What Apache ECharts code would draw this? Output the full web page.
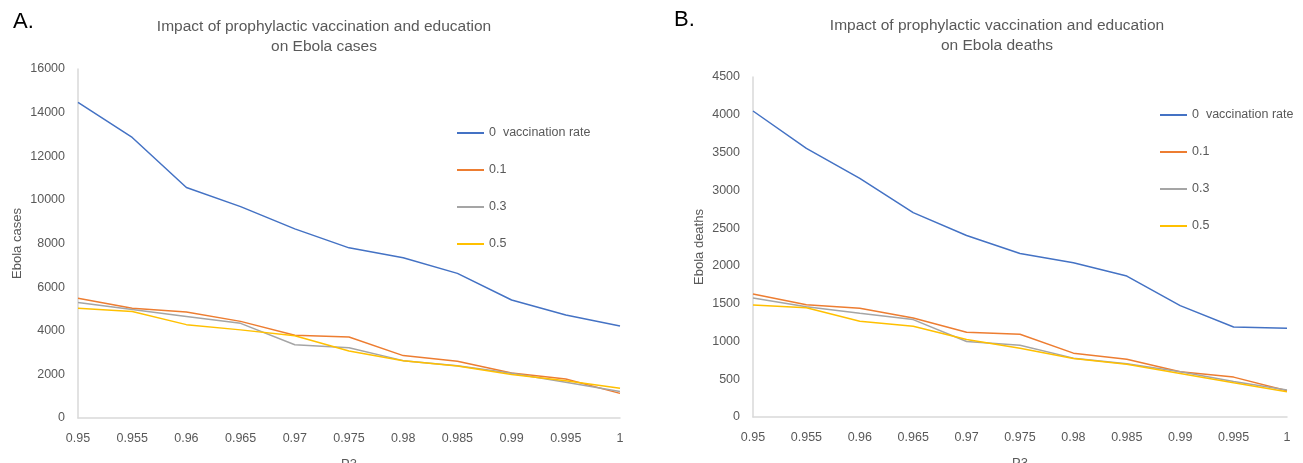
<!DOCTYPE html>
<html>
<head>
<meta charset="utf-8">
<script src="https://cdn.jsdelivr.net/npm/echarts@6/dist/echarts.min.js"></script>
<style>
html,body{margin:0;padding:0;background:#fff;}
#chart{width:1303px;height:463px;}
</style>
</head>
<body>
<div id="chart"></div>
<script>
// ---- data ----
const p3Categories = ['0.95','0.955','0.96','0.965','0.97','0.975','0.98','0.985','0.99','0.995','1'];
const seriesNames = ['0  vaccination rate', '0.1', '0.3', '0.5'];

// Panel A: Ebola cases
const casesVacc0  = [14470, 12860, 10570, 9690, 8670, 7800, 7350, 6630, 5410, 4720, 4220];
const casesVacc01 = [5490, 5030, 4860, 4430, 3790, 3710, 2860, 2600, 2060, 1790, 1130];
const casesVacc03 = [5300, 4970, 4650, 4340, 3360, 3220, 2630, 2400, 2050, 1640, 1220];
const casesVacc05 = [5030, 4880, 4280, 4040, 3770, 3070, 2620, 2380, 1990, 1710, 1360];

// Panel B: Ebola deaths
const deathsVacc0  = [4050, 3555, 3158, 2705, 2402, 2164, 2041, 1865, 1474, 1192, 1175];
const deathsVacc01 = [1628, 1487, 1438, 1311, 1122, 1095, 845, 765, 598, 528, 348];
const deathsVacc03 = [1575, 1460, 1372, 1289, 999, 950, 779, 704, 598, 471, 356];
const deathsVacc05 = [1482, 1447, 1267, 1201, 1025, 911, 774, 699, 576, 453, 334];

const casesTicks = {min: 0, max: 16000, interval: 2000};
const deathsTicks = {min: 0, max: 4500, interval: 500};

const colors = ['#4472C4', '#ED7D31', '#A5A5A5', '#FFC000'];
const FONT = 'Liberation Sans, Arial, sans-serif';
const TXT = '#595959';

const chart = echarts.init(document.getElementById('chart'), null, {renderer: 'canvas'});

function xAxisCfg(gridIndex) {
  return {
    type: 'category', gridIndex, data: p3Categories, boundaryGap: false,
    name: 'P3', nameLocation: 'middle', nameGap: 40,
    nameTextStyle: {color: TXT, fontSize: 13, fontFamily: FONT},
    axisLine: {show: true, lineStyle: {color: '#d9d9d9', width: 1.5}},
    axisTick: {show: false},
    axisLabel: {color: TXT, fontSize: 12.5, fontFamily: FONT, margin: 14},
    splitLine: {show: false}
  };
}
function yAxisCfg(gridIndex, ticks, name, gap) {
  return {
    type: 'value', gridIndex, min: ticks.min, max: ticks.max, interval: ticks.interval,
    name, nameLocation: 'middle', nameGap: gap, nameRotate: 90,
    nameTextStyle: {color: TXT, fontSize: 13, fontFamily: FONT},
    axisLine: {show: true, lineStyle: {color: '#d9d9d9', width: 1.5}},
    axisTick: {show: false},
    axisLabel: {color: TXT, fontSize: 12.5, fontFamily: FONT, margin: 13, formatter: v => String(v)},
    splitLine: {show: false}
  };
}
function lineSeries(name, data, idx, axisIdx) {
  return {
    type: 'line', name, data, xAxisIndex: axisIdx, yAxisIndex: axisIdx,
    symbol: 'none', smooth: false,
    lineStyle: {color: colors[idx], width: 1.5},
    itemStyle: {color: colors[idx]},
    emphasis: {disabled: true}
  };
}
function legendCfg(left, top) {
  return {
    orient: 'vertical', left, top, data: seriesNames,
    icon: 'rect', itemWidth: 27, itemHeight: 2, itemGap: 23,
    textStyle: {color: TXT, fontSize: 12.5, fontFamily: FONT, lineHeight: 14},
    selectedMode: false
  };
}

const option = {
  backgroundColor: '#ffffff',
  animation: false,
  color: colors,
  grid: [
    {left: 78, top: 69, width: 542, height: 349, outerBoundsMode: 'none', containLabel: false},
    {left: 753, top: 77, width: 534, height: 340, outerBoundsMode: 'none', containLabel: false}
  ],
  xAxis: [xAxisCfg(0), xAxisCfg(1)],
  yAxis: [yAxisCfg(0, casesTicks, 'Ebola cases', 54), yAxisCfg(1, deathsTicks, 'Ebola deaths', 47)],
  legend: [legendCfg(452, 121), legendCfg(1155, 103)],
  series: [
    lineSeries(seriesNames[0], casesVacc0, 0, 0),
    lineSeries(seriesNames[1], casesVacc01, 1, 0),
    lineSeries(seriesNames[2], casesVacc03, 2, 0),
    lineSeries(seriesNames[3], casesVacc05, 3, 0),
    lineSeries(seriesNames[0], deathsVacc0, 0, 1),
    lineSeries(seriesNames[1], deathsVacc01, 1, 1),
    lineSeries(seriesNames[2], deathsVacc03, 2, 1),
    lineSeries(seriesNames[3], deathsVacc05, 3, 1)
  ],
  graphic: [
    {type: 'text', left: 13, top: 11, style: {text: 'A.', fontSize: 22, fontFamily: FONT, fill: '#000'}},
    {type: 'text', left: 674, top: 9, style: {text: 'B.', fontSize: 22, fontFamily: FONT, fill: '#000'}},
    {type: 'text', x: 324, y: 37, style: {text: 'Impact of prophylactic vaccination and education\non Ebola cases', fontSize: 15.5, lineHeight: 20, fontFamily: FONT, fill: TXT, align: 'center', verticalAlign: 'middle'}},
    {type: 'text', x: 997, y: 36, style: {text: 'Impact of prophylactic vaccination and education\non Ebola deaths', fontSize: 15.5, lineHeight: 20, fontFamily: FONT, fill: TXT, align: 'center', verticalAlign: 'middle'}}
  ]
};
chart.setOption(option);
</script>
</body>
</html>
